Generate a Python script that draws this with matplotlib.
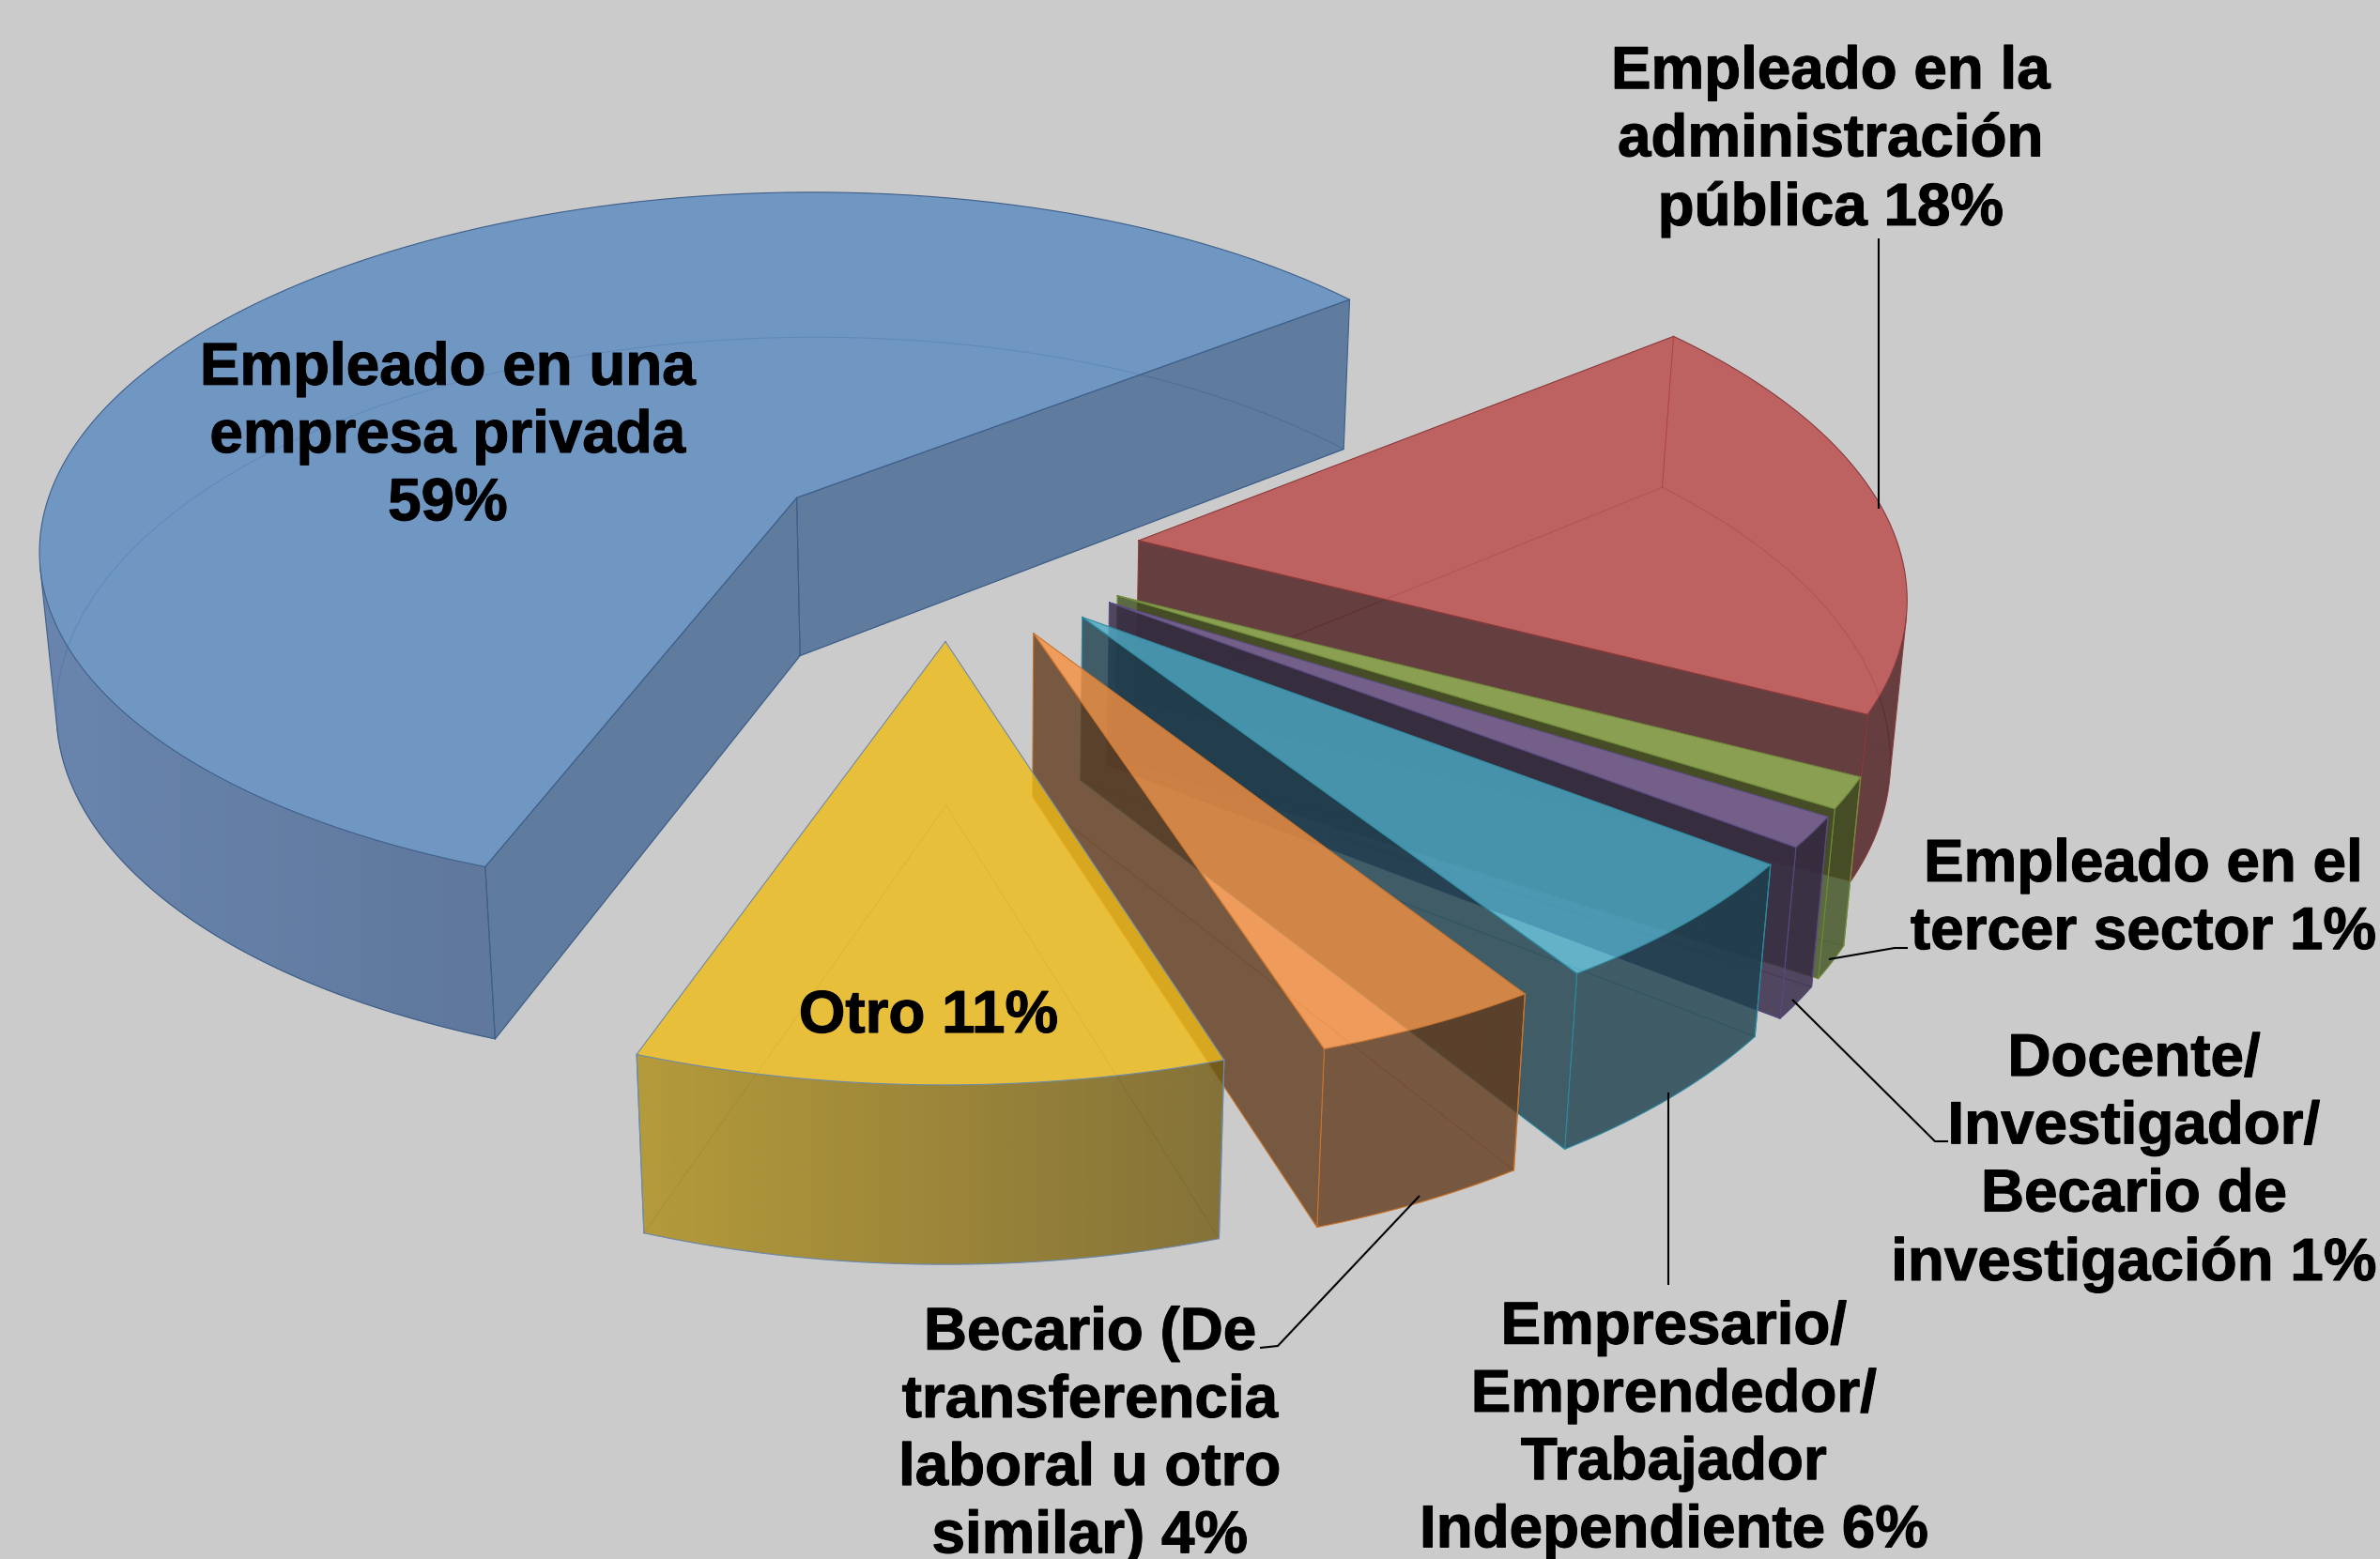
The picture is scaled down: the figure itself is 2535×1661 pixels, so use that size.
import numpy as np
import matplotlib
matplotlib.use('Agg')
import matplotlib.pyplot as plt
import matplotlib.patheffects as pe
from matplotlib.colors import to_rgb
from matplotlib.patches import Polygon

# order is clockwise from the front edge of the big slice
# shares before the rounding shown in the labels
values = [58.78, 18.27, 1.37, 1.36, 5.54, 4.14, 10.54]
labels = ['Empleado en una\nempresa privada\n59%',
          'Empleado en la\nadministración\npública 18%',
          'Empleado en el\ntercer sector 1%',
          'Docente/\nInvestigador/\nBecario de\ninvestigación 1%',
          'Empresario/\nEmprendedor/\nTrabajador\nIndependiente 6%',
          'Becario (De\ntransferencia\nlaboral u otro\nsimilar) 4%',
          'Otro 11%']
label_pos = [(477, 465), (1950, 150), (2283, 958), (2273, 1238), (1783, 1523), (1161, 1529), (989, 1083)]

top_colors = ['#5A89C0', '#BB4747', '#94B856', '#8064A2', '#4BACC6', '#F79040', '#F0BC17']
side_colors = ['#446793', '#4C1B1D', '#3F5220', '#322545', '#1C404E', '#623B1D', '#735C13']
arc_left = ['#5174A7', '#4C1B1D', '#3F5220', '#322545', '#1C404E', '#623B1D', '#AF8F17']
arc_right = ['#446390', '#4C1B1D', '#3F5220', '#322545', '#1C404E', '#623B1D', '#735C13']
edge_colors = ['#3E5F8A', '#8A3A3A', '#6F8A3A', '#584A80', '#2F8AA0', '#C77530', '#6F8AA8']

# camera and explosion offsets, fitted against the picture
camera = np.array([[-394.691563, 704.489692, -18.651482, 848.634547],
                   [280.762594, 102.844457, -180.771282, 530.275137],
                   [-0.12173, -0.043236, -0.017807, 1.0]])
explode = [(0, 0), (-0.0403, 0.468), (0.1135, 0.4893), (0.1345, 0.4853),
           (0.1834, 0.465), (0.245, 0.4201), (0.3038, 0.3222)]

leaders = [[(2001, 254), (2001, 542)],
           [(1948, 1022), (2018, 1010), (2032, 1010)],
           [(1909, 1065), (2061, 1216), (2075, 1216)],
           [(1777, 1164), (1777, 1369)],
           [(1512, 1274), (1361, 1434), (1342, 1436)]]

ALPHA = 0.8
BG = '#CBCBCB'


def project(x, y, z):
    w = camera[2, 0] * x + camera[2, 1] * y + camera[2, 2] * z + 1
    u = (camera[0, 0] * x + camera[0, 1] * y + camera[0, 2] * z + camera[0, 3]) / w
    v = (camera[1, 0] * x + camera[1, 1] * y + camera[1, 2] * z + camera[1, 3]) / w
    return np.column_stack([u, v])


def cross(a, b):
    return a[0] * b[1] - a[1] * b[0]


fig = plt.figure(figsize=(25.35, 16.61), dpi=100, facecolor=BG)
ax = fig.add_axes([0, 0, 1, 1])
ax.axis('off')

edges = np.concatenate([[0], np.cumsum(values)]) / sum(values)
z = 2
for i in range(len(values)):
    n = max(int(values[i] * 4), 6)
    t = np.linspace(edges[i], edges[i + 1], n + 1)
    x = np.cos(-2 * np.pi * t) + explode[i][0]
    y = np.sin(-2 * np.pi * t) + explode[i][1]
    rim_top = project(x, y, 0 * x)
    rim_bot = project(x, y, 0 * x - 1)
    apex_top = project(np.array([explode[i][0]]), np.array([explode[i][1]]), np.array([0.0]))
    apex_bot = project(np.array([explode[i][0]]), np.array([explode[i][1]]), np.array([-1.0]))
    top = np.vstack([apex_top, rim_top])
    bot = np.vstack([apex_bot, rim_bot])
    ec = edge_colors[i]

    # orientation of the top face decides which walls look at the camera
    px, py = top[:, 0], top[:, 1]
    area = np.sum(px * np.roll(py, -1) - np.roll(px, -1) * py)
    drop = np.array(apex_bot[0] - apex_top[0])

    # hidden lines, seen through the glass
    ax.plot(*np.vstack([bot, bot[:1]]).T, color=ec, lw=0.8, alpha=0.55, zorder=z)
    z += 1

    # curved wall, gradient runs left to right on screen
    front = [k for k in range(n) if cross(rim_top[k + 1] - rim_top[k], rim_bot[k] - rim_top[k]) * area < 0]
    if front:
        idx = np.append(front, front[-1] + 1)
        wall = np.vstack([rim_top[idx], rim_bot[idx][::-1]])
        x0, x1 = wall[:, 0].min(), wall[:, 0].max()
        y0, y1 = wall[:, 1].min(), wall[:, 1].max()
        a, b = np.array(to_rgb(arc_left[i])), np.array(to_rgb(arc_right[i]))
        ramp = np.linspace(0, 1, 256)[None, :, None]
        rgba = np.concatenate([a + (b - a) * ramp, np.full((1, 256, 1), ALPHA)], axis=2)
        im = ax.imshow(rgba, extent=(x0, x1, y1, y0), aspect='auto', interpolation='bilinear', zorder=z)
        im.set_clip_path(Polygon(wall, closed=True, transform=ax.transData))
        z += 1
        ax.plot(*rim_bot[idx].T, color=ec, lw=0.8, zorder=z)
        ax.plot(*np.array([rim_top[idx[0]], rim_bot[idx[0]]]).T, color=ec, lw=0.8, zorder=z)
        ax.plot(*np.array([rim_top[idx[-1]], rim_bot[idx[-1]]]).T, color=ec, lw=0.8, zorder=z)
        z += 1

    # straight walls
    for corner_top, corner_bot, sign in ((rim_top[0], rim_bot[0], 1), (rim_top[-1], rim_bot[-1], -1)):
        edge = (corner_top - apex_top[0]) * sign
        wall = np.array([apex_top[0], corner_top, corner_bot, apex_bot[0]])
        if cross(edge, drop) * area < 0:
            ax.fill(*wall.T, color=side_colors[i], alpha=ALPHA, lw=0, zorder=z)
            z += 1
            ax.plot(*wall[[0, 1, 2, 3, 0]].T, color=ec, lw=0.8, zorder=z)
        else:
            ax.plot(*wall[[1, 2]].T, color=ec, lw=0.8, zorder=z)
        z += 1

    ax.fill(*top.T, color=top_colors[i], alpha=ALPHA, lw=0, zorder=z)
    z += 1
    ax.plot(*np.vstack([top, top[:1]]).T, color=ec, lw=0.8, zorder=z)
    z += 1

for pts in leaders:
    ax.plot(*np.array(pts).T, color='black', lw=1.5, zorder=z, solid_capstyle='butt')

for txt, (lx, ly) in zip(labels, label_pos):
    ax.text(lx, ly, txt, ha='center', va='center', ma='center', family='Liberation Sans',
            weight='bold', fontsize=45.9, linespacing=1.26, color='black', zorder=z + 1,
            path_effects=[pe.withStroke(linewidth=0.8, foreground='black')])

ax.set_xlim(0, 2535)
ax.set_ylim(1661, 0)
fig.savefig('out.png', dpi=100, facecolor=BG)
